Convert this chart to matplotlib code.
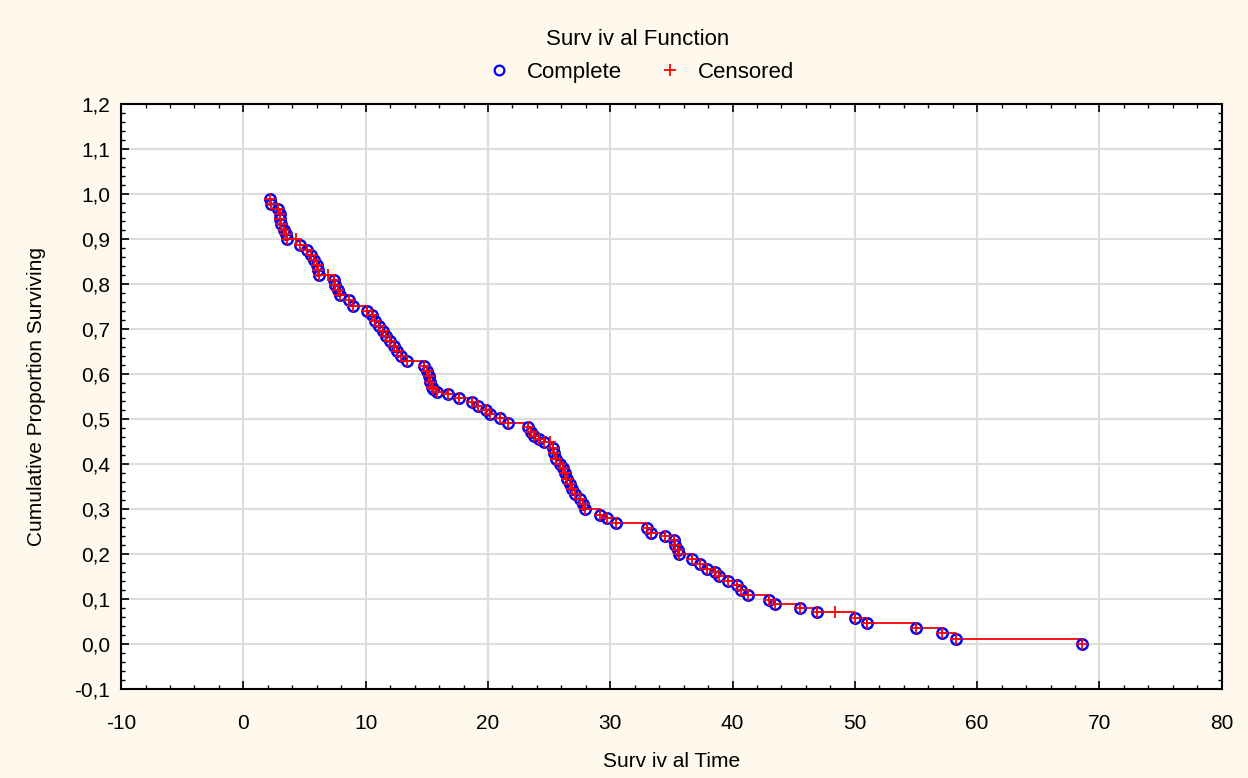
import numpy as np
import matplotlib.pyplot as plt
from matplotlib.ticker import MultipleLocator, FuncFormatter
from matplotlib.lines import Line2D

# survival times, cumulative proportion surviving, censored flag (1 = censored)
times = [2.2, 2.3, 2.8, 3.0, 3.0, 3.1, 3.3, 3.5, 3.6, 4.3, 4.6, 5.2, 5.5, 5.8,
         6.0, 6.1, 6.2, 6.9, 7.4, 7.5, 7.7, 7.9, 8.6, 9.0, 10.1, 10.5, 10.8,
         11.1, 11.4, 11.7, 12.0, 12.3, 12.6, 12.9, 13.4, 14.8, 15.0, 15.2, 15.3,
         15.4, 15.5, 15.8, 16.7, 17.6, 18.7, 19.2, 19.8, 20.2, 21.0, 21.6, 23.3,
         23.5, 23.8, 24.2, 24.6, 25.1, 25.3, 25.4, 25.6, 25.9, 26.1, 26.3, 26.5,
         26.7, 26.9, 27.1, 27.5, 27.8, 27.9, 29.2, 29.7, 30.5, 33.0, 33.3, 34.5,
         35.2, 35.3, 35.5, 35.6, 36.7, 37.3, 37.9, 38.6, 38.9, 39.6, 40.4, 40.7,
         41.3, 43.0, 43.5, 45.5, 46.9, 48.4, 50.0, 51.0, 55.0, 57.1, 58.3, 68.6]
surv = [0.989, 0.978, 0.966, 0.955, 0.944, 0.933, 0.921, 0.910, 0.899, 0.899,
        0.887, 0.876, 0.865, 0.853, 0.842, 0.831, 0.820, 0.820, 0.808, 0.797,
        0.786, 0.775, 0.764, 0.752, 0.741, 0.730, 0.718, 0.707, 0.696, 0.685,
        0.673, 0.662, 0.651, 0.640, 0.628, 0.617, 0.606, 0.595, 0.583, 0.572,
        0.566, 0.561, 0.556, 0.547, 0.538, 0.529, 0.520, 0.512, 0.503, 0.492,
        0.482, 0.471, 0.462, 0.455, 0.449, 0.449, 0.436, 0.424, 0.412, 0.401,
        0.390, 0.379, 0.367, 0.356, 0.345, 0.334, 0.323, 0.311, 0.299, 0.287,
        0.279, 0.268, 0.257, 0.246, 0.241, 0.231, 0.220, 0.209, 0.199, 0.188,
        0.178, 0.167, 0.160, 0.150, 0.139, 0.131, 0.121, 0.109, 0.098, 0.088,
        0.081, 0.070, 0.070, 0.058, 0.047, 0.036, 0.024, 0.012, 0.000]
censored = [0, 0, 0, 0, 0, 0, 0, 0, 0, 1, 0, 0, 0, 0, 0, 0, 0, 1, 0, 0, 0, 0, 0,
            0, 0, 0, 0, 0, 0, 0, 0, 0, 0, 0, 0, 0, 0, 0, 0, 0, 0, 0, 0, 0, 0, 0,
            0, 0, 0, 0, 0, 0, 0, 0, 0, 1, 0, 0, 0, 0, 0, 0, 0, 0, 0, 0, 0, 0, 0,
            0, 0, 0, 0, 0, 0, 0, 0, 0, 0, 0, 0, 0, 0, 0, 0, 0, 0, 0, 0, 0, 0, 0,
            1, 0, 0, 0, 0, 0, 0]

t = np.array(times)
s = np.array(surv)
c = np.array(censored) == 1

bg = '#FFF8EC'
plt.rcParams['font.family'] = ['Liberation Sans', 'DejaVu Sans']
plt.rcParams['axes.unicode_minus'] = False

fig = plt.figure(figsize=(12.48, 7.78), dpi=100, facecolor=bg)
ax = fig.add_axes([0.097, 0.1144, 0.882, 0.752])
ax.set_facecolor('white')

ax.step(t, s, where='post', color='red', lw=1.3, zorder=3)
ax.plot(t[~c], s[~c], 'o', ms=7.5, mfc='none', mec='blue', mew=1.8, zorder=4)
ax.plot(t, s, '+', ms=8, color='red', mew=1.3, zorder=5)

ax.set_xlim(-10, 80)
ax.set_ylim(-0.1, 1.2)
ax.xaxis.set_major_locator(MultipleLocator(10))
ax.xaxis.set_minor_locator(MultipleLocator(2))
ax.yaxis.set_major_locator(MultipleLocator(0.1))
ax.yaxis.set_minor_locator(MultipleLocator(0.02))
ax.yaxis.set_major_formatter(FuncFormatter(lambda v, p: ('%.1f' % v).replace('.', ',')))
ax.grid(True, which='major', color='#DDDDDD', lw=1.5, zorder=0)
ax.set_axisbelow(True)
ax.tick_params(which='both', direction='in', top=True, right=True, labelsize=15, colors='black')
ax.tick_params(which='major', length=6, width=1.2)
ax.tick_params(which='minor', length=3, width=1)
ax.tick_params(axis='x', pad=18)
ax.tick_params(axis='y', pad=8)
for sp in ax.spines.values():
    sp.set_linewidth(1.5)

ax.set_xlabel('Surv iv al Time', fontsize=15, labelpad=14)
ax.set_ylabel('Cumulative Proportion Surviving', fontsize=15, labelpad=20)

handles = [Line2D([], [], ls='none', marker='o', ms=7, mfc='none', mec='blue', mew=1.6),
           Line2D([], [], ls='none', marker='+', ms=8, color='red', mew=1.3)]
leg = fig.legend(handles, ['Complete', 'Censored'], ncol=2, loc='center',
                 bbox_to_anchor=(638 / 1248, 1 - 56 / 778), frameon=False,
                 fontsize=16, title='Surv iv al Function', title_fontsize=16,
                 columnspacing=1.4, handletextpad=0.5, handlelength=1.5)

fig.savefig('out.png', dpi=100, facecolor=bg)
